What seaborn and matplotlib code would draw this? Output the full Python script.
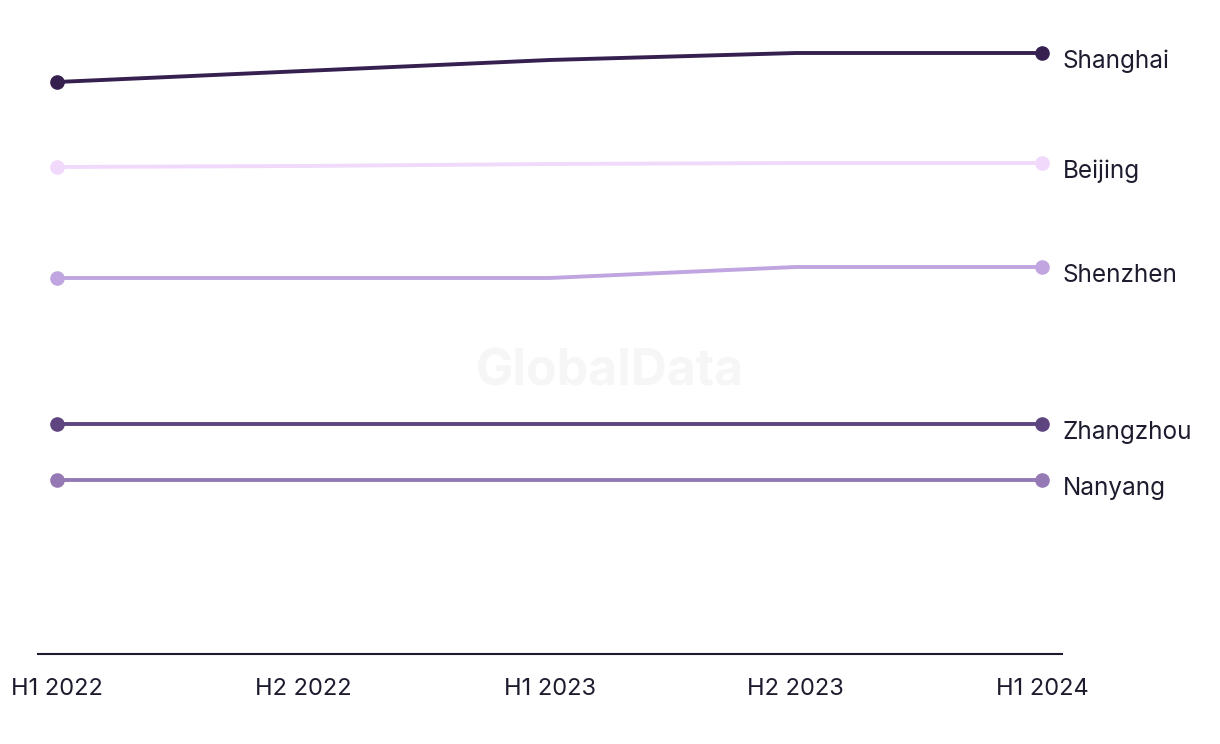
import matplotlib
matplotlib.use("Agg")
import matplotlib.pyplot as plt
import seaborn as sns
import pandas as pd
import numpy as np

periods = ["H1 2022", "H2 2022", "H1 2023", "H2 2023", "H1 2024"]
cities = ["Shanghai", "Beijing", "Shenzhen", "Zhangzhou", "Nanyang"]
shanghai = [572, 583, 594, 601, 601]
beijing = [487, 488, 490, 491, 491]
shenzhen = [376, 376, 376, 387, 387]
zhangzhou = [230, 230, 230, 230, 230]
nanyang = [174, 174, 174, 174, 174]
colors = ["#35204f", "#f0d9fa", "#c0a5e0", "#5e4580", "#9479b5"]

series = [shanghai, beijing, shenzhen, zhangzhou, nanyang]
rows = []
for c, vals in zip(cities, series):
    for i, v in enumerate(vals):
        rows.append({"city": c, "x": i, "value": v})
df = pd.DataFrame(rows)

sns.set_theme(style="white")
plt.rcParams["font.family"] = ["Inter", "DejaVu Sans"]
text_color = "#1c1c2e"

fig = plt.figure(figsize=(12.2, 7.44), dpi=100)
ax = fig.add_axes([38/1220, 1 - 654/744, (1062-38)/1220, 654/744])

palette = dict(zip(cities, colors))
sns.lineplot(data=df, x="x", y="value", hue="city", palette=palette,
             linewidth=2.8, legend=False, ax=ax, zorder=2)

# endpoint markers and labels
for c, vals in zip(cities, series):
    ax.plot([0, len(vals) - 1], [vals[0], vals[-1]], linestyle="none",
            marker="o", markersize=9.5, color=palette[c], zorder=3)
    ax.annotate(c, xy=(len(vals) - 1, vals[-1]), xytext=(15, -6),
                textcoords="offset points", ha="left", va="center",
                fontsize=17.5, color=text_color)

fig.text(610/1220, 1 - 372/744, "GlobalData",
         ha="center", va="center", fontsize=36, fontweight="bold",
         color="#f6f6f6", zorder=0)

ax.set_xlim(-19/246.25, 4 + 20/246.25)
ax.set_ylim(0, 654)
ax.set_xticks(range(len(periods)))
ax.set_xticklabels(periods, fontsize=17, color=text_color)
ax.set_yticks([])
ax.set_xlabel("")
ax.set_ylabel("")
ax.tick_params(axis="x", length=0, pad=17)
for s in ["top", "right", "left"]:
    ax.spines[s].set_visible(False)
ax.spines["bottom"].set_color(text_color)
ax.spines["bottom"].set_linewidth(1.5)
ax.set_facecolor("none")

fig.savefig("out.png", dpi=100)
